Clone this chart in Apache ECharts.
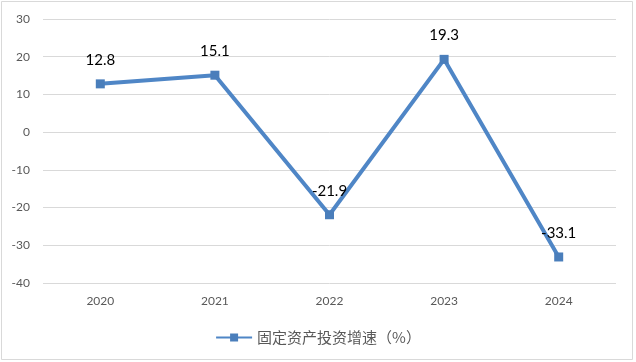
<!DOCTYPE html>
<html><head><meta charset="utf-8">
<script src="https://cdn.jsdelivr.net/npm/echarts@6/dist/echarts.min.js"></script>
<style>html,body{margin:0;padding:0;background:#fff}#c{width:636px;height:362px}</style>
</head><body><div id="c"></div>
<script>
const categories = ['2020', '2021', '2022', '2023', '2024'];
const values = [12.8, 15.1, -21.9, 19.3, -33.1];
const seriesName = '固定资产投资增速（%）';
const chart = echarts.init(document.getElementById('c'));
chart.setOption({
  animation: false,
  backgroundColor: '#fff',
  graphic: [{type: 'rect', shape: {x: 1.5, y: 1.5, width: 631, height: 358}, style: {fill: 'none', stroke: '#d9d9d9', lineWidth: 1}, silent: true}],
  grid: {left: 43, right: 20, top: 19, bottom: 79},
  legend: {
    data: [seriesName], left: 'center', top: 325, itemWidth: 36, itemHeight: 10, itemGap: 5,
    textStyle: {fontFamily: 'Noto Sans CJK SC', fontSize: 15, color: '#595959'}
  },
  xAxis: {
    type: 'category', data: categories,
    axisLine: {show: false}, axisTick: {show: false},
    axisLabel: {color: '#595959', fontSize: 12, margin: 12, fontFamily: 'Lato'}
  },
  yAxis: {
    type: 'value', min: -40, max: 30, interval: 10,
    axisLine: {show: false}, axisTick: {show: false},
    axisLabel: {color: '#595959', fontSize: 12, margin: 13, fontFamily: 'Lato'},
    splitLine: {lineStyle: {color: '#d9d9d9'}}
  },
  series: [{
    name: seriesName, type: 'line', data: values,
    symbol: 'rect', symbolSize: 9,
    lineStyle: {color: '#4f86c6', width: 4},
    itemStyle: {color: '#4a7ebb'},
    label: {show: true, position: 'top', distance: 12, color: '#000', fontSize: 15, fontFamily: 'Lato'}
  }]
});
</script></body></html>
